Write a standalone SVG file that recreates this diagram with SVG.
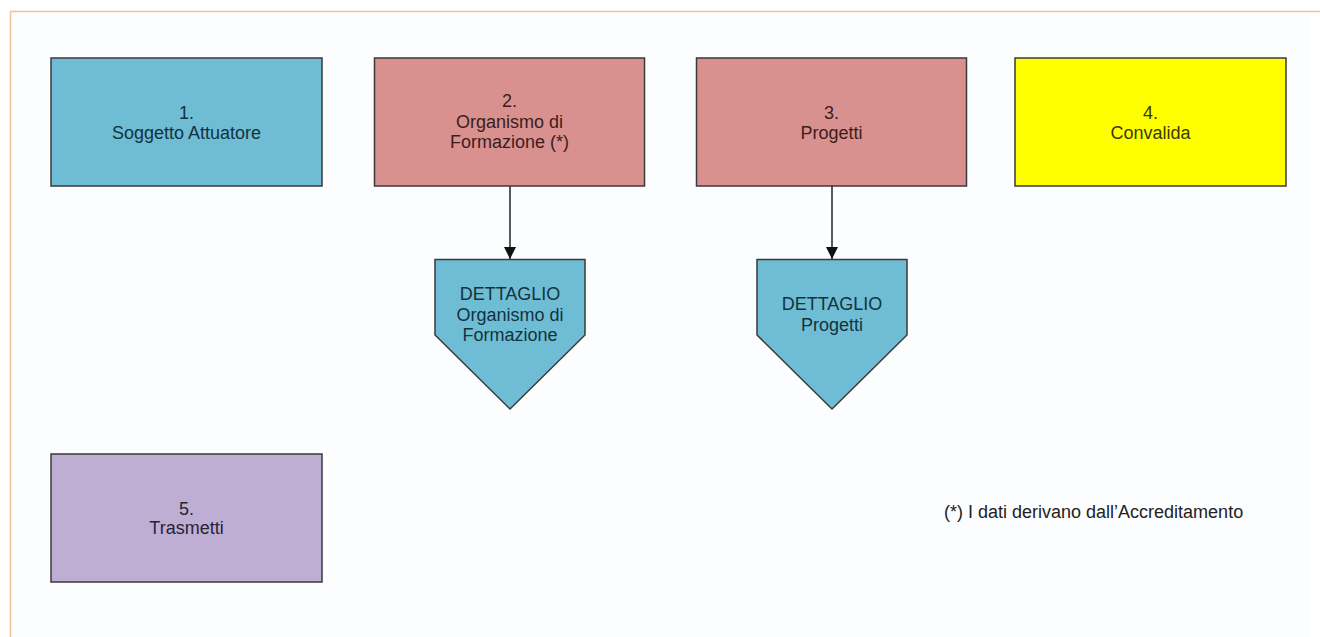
<svg xmlns="http://www.w3.org/2000/svg" width="1320" height="637" viewBox="0 0 1320 637">
<style>
text{font-family:"Liberation Sans",Arial,sans-serif;font-size:18px;text-anchor:middle}
.box{stroke:#3a3a3a;stroke-width:1.5}
.blue{fill:#6fbdd4}
.pink{fill:#d8918e}
.yellow{fill:#ffff00}
.purple{fill:#bfaed3}
.tb{fill:#13323d}
.tp{fill:#3d1c1c}
.ty{fill:#3a3a00}
.tv{fill:#2a2238}
.conn{stroke:#222;stroke-width:1.5;fill:none}
</style>
<defs>
<marker id="arr" viewBox="0 0 12 12" refX="12" refY="6" markerWidth="12" markerHeight="12" markerUnits="userSpaceOnUse" orient="auto">
<path d="M0,0 L12,6 L0,12 z" fill="#111"/>
</marker>
</defs>
<rect x="0" y="0" width="1320" height="637" fill="#ffffff"/>
<rect x="11" y="12" width="1299" height="625" fill="#fcfdff"/>
<line x1="10" y1="11.5" x2="1320" y2="11.5" stroke="#f0c49a" stroke-width="1.5"/>
<line x1="10.5" y1="11" x2="10.5" y2="637" stroke="#f0c49a" stroke-width="1.5"/>
<g id="connectors">
<line class="conn" x1="510" y1="186" x2="510" y2="259" marker-end="url(#arr)"/>
<line class="conn" x1="832" y1="186" x2="832" y2="259" marker-end="url(#arr)"/>
</g>
<g id="n1">
<rect class="box blue" x="51" y="58" width="271" height="128"/>
<text class="tb" x="186.5" y="118.5">1.</text>
<text class="tb" x="186.5" y="138.5">Soggetto Attuatore</text>
</g>
<g id="n2">
<rect class="box pink" x="374.5" y="58" width="270" height="128"/>
<text class="tp" x="509.5" y="107">2.</text>
<text class="tp" x="509.5" y="127.5">Organismo di</text>
<text class="tp" x="509.5" y="147.5">Formazione (*)</text>
</g>
<g id="n3">
<rect class="box pink" x="696.5" y="58" width="270" height="128"/>
<text class="tp" x="831.5" y="118.5">3.</text>
<text class="tp" x="831.5" y="138.5">Progetti</text>
</g>
<g id="n4">
<rect class="box yellow" x="1015" y="58" width="271" height="128"/>
<text class="ty" x="1150.5" y="118.5">4.</text>
<text class="ty" x="1150.5" y="138.5">Convalida</text>
</g>
<g id="n5">
<rect class="box purple" x="51" y="454" width="271" height="128"/>
<text class="tv" x="186.5" y="514.5">5.</text>
<text class="tv" x="186.5" y="534">Trasmetti</text>
</g>
<g id="d1">
<polygon class="box blue" points="435,259.5 585,259.5 585,335 510,409 435,335"/>
<text class="tb" x="510" y="300">DETTAGLIO</text>
<text class="tb" x="510" y="320.5">Organismo di</text>
<text class="tb" x="510" y="341">Formazione</text>
</g>
<g id="d2">
<polygon class="box blue" points="757,259.5 907,259.5 907,335 832,409 757,335"/>
<text class="tb" x="832" y="309.5">DETTAGLIO</text>
<text class="tb" x="832" y="330.5">Progetti</text>
</g>
<g id="note">
<text x="944" y="518" style="text-anchor:start;fill:#222">(*) I dati derivano dall’Accreditamento</text>
</g>
</svg>
